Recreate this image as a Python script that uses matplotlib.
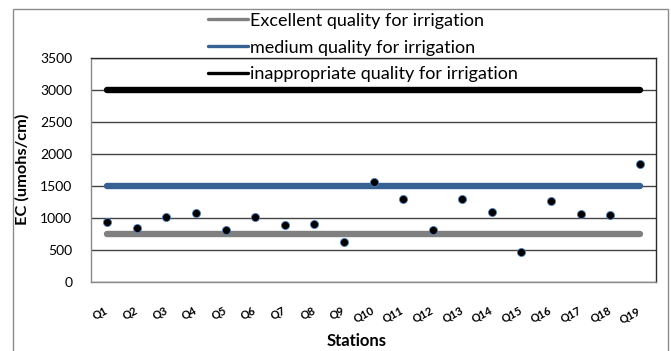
import matplotlib
matplotlib.use("Agg")
import matplotlib.pyplot as plt
from matplotlib.patches import Rectangle

# Station EC measurements (umohs/cm) and irrigation quality limits
stations = ["Q1", "Q2", "Q3", "Q4", "Q5", "Q6", "Q7", "Q8", "Q9", "Q10",
            "Q11", "Q12", "Q13", "Q14", "Q15", "Q16", "Q17", "Q18", "Q19"]
ec_values = [935, 840, 1020, 1080, 810, 1020, 890, 900, 620, 1555,
             1300, 810, 1300, 1100, 470, 1260, 1060, 1040, 1840]
excellent_limit = 750
medium_limit = 1500
inappropriate_limit = 3000
y_ticks = [0, 500, 1000, 1500, 2000, 2500, 3000, 3500]

plt.rcParams['font.family'] = ['Lato', 'DejaVu Sans']

fig = plt.figure(figsize=(6.71, 3.51), dpi=100)
W, H = 671, 351
ax = fig.add_axes([91 / W, 1 - 282 / H, (656 - 91) / W, (282 - 58) / H])

x = list(range(1, len(stations) + 1))

ax.plot(x, [excellent_limit] * len(x), color="#808080", lw=4.6,
        solid_capstyle="round", label="Excellent quality for irrigation", zorder=3)
ax.plot(x, [medium_limit] * len(x), color="#386193", lw=4.6,
        solid_capstyle="round", label="medium quality for irrigation", zorder=3)
ax.plot(x, [inappropriate_limit] * len(x), color="#000000", lw=4.6,
        solid_capstyle="round", label="inappropriate quality for irrigation", zorder=3)
ax.plot(x, ec_values, linestyle="none", marker="o", markersize=5.8,
        markerfacecolor="#000000", markeredgecolor="#4F81BD",
        markeredgewidth=0.6, zorder=4)

ax.set_xlim(0.45, 19.55)
ax.set_ylim(0, 3500)
ax.set_yticks(y_ticks)
ax.set_yticklabels([str(t) for t in y_ticks], fontsize=10)
ax.set_xticks(x)
ax.set_xticklabels(stations, fontsize=8, fontweight="bold", rotation=28,
                   ha="right", va="center", rotation_mode="anchor")
ax.tick_params(axis="both", length=0)
ax.tick_params(axis="y", pad=13.5)
ax.tick_params(axis="x", pad=20)
ax.yaxis.grid(True, color="#444444", lw=1.0, zorder=1)
ax.set_axisbelow(True)

for side in ("top", "right"):
    ax.spines[side].set_color("#2a2a2a")
    ax.spines[side].set_linewidth(1.0)
for side in ("left", "bottom"):
    ax.spines[side].set_color("#8a8a8a")
    ax.spines[side].set_linewidth(1.0)

ax.set_ylabel("EC (umohs/cm)", fontsize=11.8, fontweight="bold")
ax.yaxis.set_label_coords(30 / W, 1 - 169 / H, transform=fig.transFigure)
ax.set_xlabel("Stations", fontsize=12, fontweight="bold")
ax.xaxis.set_label_coords(357 / W, 1 - 333 / H, transform=fig.transFigure)

leg = ax.legend(loc="upper left", bbox_to_anchor=(201 / W, 1 - 5.5 / H),
                bbox_transform=fig.transFigure, frameon=False, fontsize=13,
                handlelength=2.2, handletextpad=0.1, labelspacing=0.6,
                borderaxespad=0)
for line in leg.get_lines():
    line.set_linewidth(2.4)
leg.set_zorder(5)

# Chart frame
fig.patches.append(Rectangle((13 / W, -0.05), (668 - 13) / W, 1.05 - 9 / H,
                             transform=fig.transFigure, fill=False,
                             edgecolor="#8c8c8c", lw=1.0))

fig.savefig("out.png", dpi=100)
